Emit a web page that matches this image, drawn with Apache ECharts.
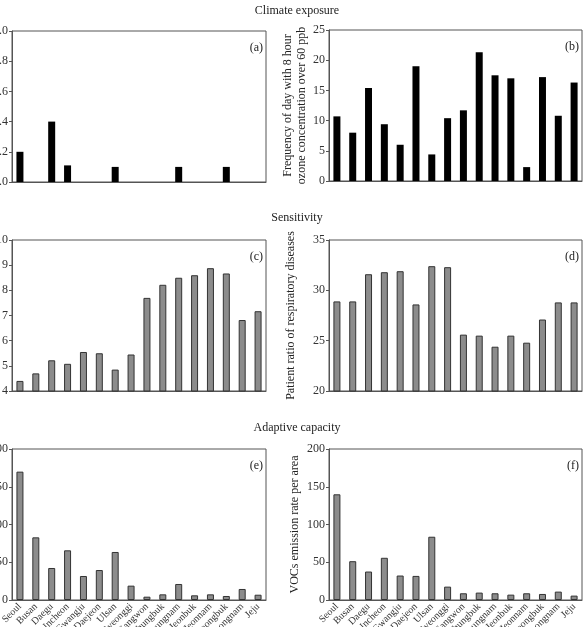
<!DOCTYPE html>
<html>
<head>
<meta charset="utf-8">
<script src="https://cdn.jsdelivr.net/npm/echarts@6/dist/echarts.min.js"></script>
<style>
  html, body { margin: 0; padding: 0; background: #fff; }
  #main { width: 584px; height: 627px; }
</style>
</head>
<body>
<div id="main"></div>
<script>
// 16 regions
const regions = ["Seoul", "Busan", "Daegu", "Incheon", "Gwangju", "Daejeon", "Ulsan", "Gyeonggi",
  "Gangwon", "Chungbuk", "Chungnam", "Jeonbuk", "Jeonnam", "Gyeongbuk", "Gyeongnam", "Jeju"];

// climate exposure
const panelA = [0.2, 0, 0.4, 0.11, 0, 0, 0.1, 0, 0, 0, 0.1, 0, 0, 0.1, 0, 0];
const ozoneDays = [10.7, 8, 15.4, 9.4, 6, 19, 4.4, 10.4, 11.7, 21.3, 17.5, 17, 2.3, 17.2, 10.8, 16.3];
// sensitivity
const panelC = [4.4, 4.7, 5.22, 5.08, 5.55, 5.5, 4.85, 5.45, 7.7, 8.22, 8.5, 8.6, 8.88, 8.67, 6.82, 7.17];
const respiratory = [28.9, 28.9, 31.6, 31.8, 31.9, 28.6, 32.4, 32.3, 25.6, 25.5, 24.4, 25.5, 24.8, 27.1, 28.8, 28.8];
// adaptive capacity
const panelE = [170, 83, 42.4, 65.8, 31.8, 39.7, 63.6, 19, 4.4, 7.5, 21.2, 6.2, 7.5, 5.3, 14.6, 7];
const vocs = [140, 51.4, 37.7, 55.9, 32.4, 31.9, 83.8, 17.7, 8.9, 9.8, 8.9, 7.1, 8.9, 8, 11.1, 5.8];

const panelLetters = ["(a)", "(b)", "(c)", "(d)", "(e)", "(f)"];
const sectionTitles = ["Climate exposure", "Sensitivity", "Adaptive capacity"];

const font = "Liberation Serif";
const axisColor = "#555";

// grid positions [left, top, width, height]
const grids = [
  [12, 31, 254, 151], [329, 30, 253, 151],
  [12, 240, 254, 151], [329, 240, 253, 151],
  [12, 449, 254, 151], [329, 449, 253, 151],
];
const yRanges = [
  { min: 0, max: 1, interval: 0.2, fmt: (v) => v.toFixed(1) },
  { min: 0, max: 25, interval: 5 },
  { min: 4, max: 10, interval: 1 },
  { min: 20, max: 35, interval: 5 },
  { min: 0, max: 200, interval: 50 },
  { min: 0, max: 200, interval: 50 },
];
const yNames = ["", "Frequency of day with 8 hour\nozone concentration over 60 ppb", "",
  "Patient ratio of respiratory diseases", "", "VOCs emission rate per area"];
const yNameGaps = [0, 15, 0, 31, 0, 27];
const seriesData = [panelA, ozoneDays, panelC, respiratory, panelE, vocs];

let chart = echarts.init(document.getElementById("main"));

let options = {
  backgroundColor: "#fff",
  animation: false,
  title: [],
  grid: [],
  xAxis: [],
  yAxis: [],
  series: [],
};

sectionTitles.forEach((t, i) => {
  options.title.push({
    text: t,
    left: 292,
    textAlign: "center",
    top: [0, 207, 417][i],
    textStyle: { fontFamily: font, fontSize: 12, fontWeight: "normal", color: "#222" },
  });
});

grids.forEach((g, i) => {
  options.grid.push({
    left: g[0], top: g[1], width: g[2], height: g[3],
    outerBoundsMode: "none",
    show: true, borderColor: axisColor, borderWidth: 1, backgroundColor: "transparent",
  });
  options.title.push({
    text: panelLetters[i],
    left: g[0] + g[2] - 8,
    textAlign: "right",
    top: g[1] + 6,
    textStyle: { fontFamily: font, fontSize: 12, fontWeight: "normal", color: "#222" },
  });
  const bottomRow = i >= 4;
  options.xAxis.push({
    type: "category",
    gridIndex: i,
    data: regions,
    axisLine: { lineStyle: { color: axisColor } },
    axisTick: { show: false },
    axisLabel: {
      show: bottomRow, interval: 0, rotate: 45, margin: 5,
      fontFamily: font, fontSize: 10, color: "#333",
    },
  });
  const yr = yRanges[i];
  options.yAxis.push({
    type: "value",
    gridIndex: i,
    min: yr.min, max: yr.max, interval: yr.interval,
    name: yNames[i],
    nameLocation: "middle",
    nameGap: yNameGaps[i],
    nameTextStyle: { fontFamily: font, fontSize: 12, color: "#222", lineHeight: 14 },
    splitLine: { show: false },
    axisLine: { show: true, lineStyle: { color: axisColor } },
    axisTick: { show: true, length: 3, lineStyle: { color: axisColor } },
    axisLabel: {
      margin: 4, fontFamily: font, fontSize: 12, color: "#333",
      formatter: yr.fmt ? yr.fmt : (v) => v,
    },
  });
  const topRow = i < 2;
  options.series.push({
    type: "bar",
    xAxisIndex: i,
    yAxisIndex: i,
    data: seriesData[i],
    barWidth: 7,
    itemStyle: topRow
      ? { color: "#000" }
      : { color: "#8c8c8c", borderColor: "#333", borderWidth: 1 },
  });
});

chart.setOption(options);
</script>
</body>
</html>
